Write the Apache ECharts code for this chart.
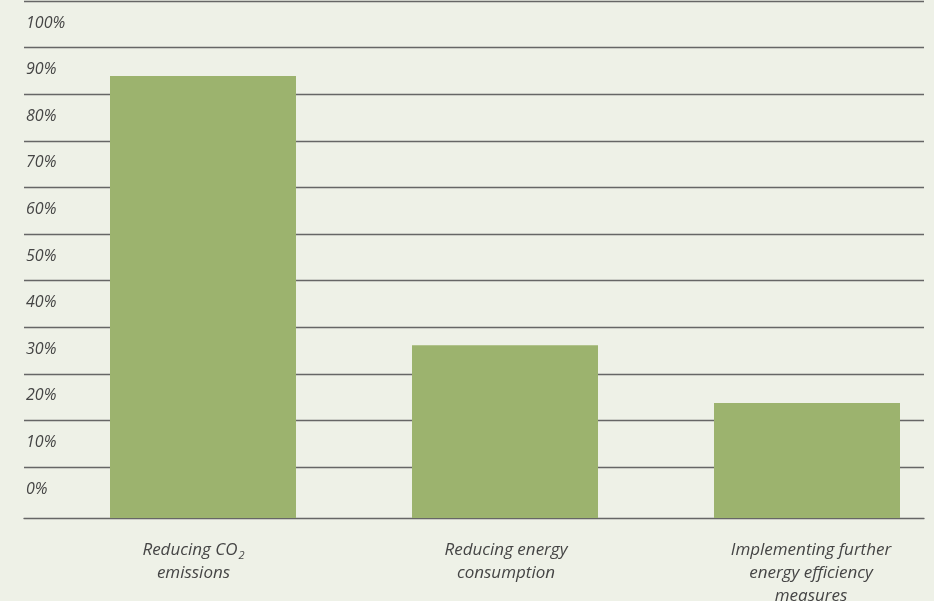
<!DOCTYPE html>
<html>
<head>
<meta charset="utf-8">
<script src="https://cdn.jsdelivr.net/npm/echarts@6/dist/echarts.min.js"></script>
<style>
html,body{margin:0;padding:0;background:#eef1e7;}
#c{width:934px;height:601px;}
</style>
</head>
<body>
<div id="c"></div>
<script>
var categories = ['Reducing CO{sub|2}\nemissions', 'Reducing energy\nconsumption', 'Implementing further\nenergy efficiency\nmeasures'];
var values = [94.9, 37.1, 24.7];
var tickValues = [0, 10, 20, 30, 40, 50, 60, 70, 80, 90, 100];
var labelShift = [[0, 19, 0, 0], [0, 0, 0, 2], [0, 0, 0, 8]];

var FONT = '"Open Sans", "Noto Sans", sans-serif';
var chart = echarts.init(document.getElementById('c'), null, {renderer: 'canvas'});
chart.setOption({
  backgroundColor: '#eef1e7',
  animation: false,
  grid: [
    {left: 52, width: 906, top: 1, height: 517, outerBoundsMode: 'none', containLabel: false},
    {left: 24, right: 10, top: 1, height: 466, outerBoundsMode: 'none'},
    {left: 24, right: 10, top: 1, height: 517, outerBoundsMode: 'none'}
  ],
  xAxis: [
    {
      type: 'category', gridIndex: 0,
      data: categories.map(function (c, i) { return {value: c, textStyle: {padding: labelShift[i]}}; }),
      axisLine: {show: false}, axisTick: {show: false},
      axisLabel: {
        interval: 0, margin: 21, color: '#454545', fontFamily: FONT, fontStyle: 'italic',
        fontSize: 17, lineHeight: 23, align: 'center',
        rich: {sub: {fontSize: 11, fontStyle: 'italic', fontFamily: FONT, color: '#454545', padding: [11, 0, 0, 1]}}
      }
    },
    {
      type: 'value', gridIndex: 1, min: 0, max: 1, show: false
    },
    {
      type: 'value', gridIndex: 2, min: 0, max: 1,
      axisLine: {show: true, onZero: false, lineStyle: {color: '#666', width: 1.3}},
      axisTick: {show: false}, axisLabel: {show: false}, splitLine: {show: false}
    }
  ],
  yAxis: [
    {type: 'value', gridIndex: 0, min: 0, max: 111, show: false},
    {
      type: 'value', gridIndex: 1, min: tickValues[0], max: tickValues[tickValues.length - 1], interval: 10,
      axisLine: {show: false}, axisTick: {show: false},
      splitLine: {show: true, lineStyle: {color: '#666', width: 1.3}},
      axisLabel: {
        inside: true, margin: 2, align: 'left', verticalAlign: 'top', lineHeight: 44,
        color: '#454545', fontFamily: FONT, fontStyle: 'italic', fontSize: 16,
        formatter: '{value}%'
      }
    },
    {type: 'value', gridIndex: 2, min: 0, max: 1, show: false}
  ],
  series: [{
    type: 'bar', xAxisIndex: 0, yAxisIndex: 0,
    data: values, barWidth: 186,
    itemStyle: {color: '#9cb36e'}
  }]
});
</script>
</body>
</html>
